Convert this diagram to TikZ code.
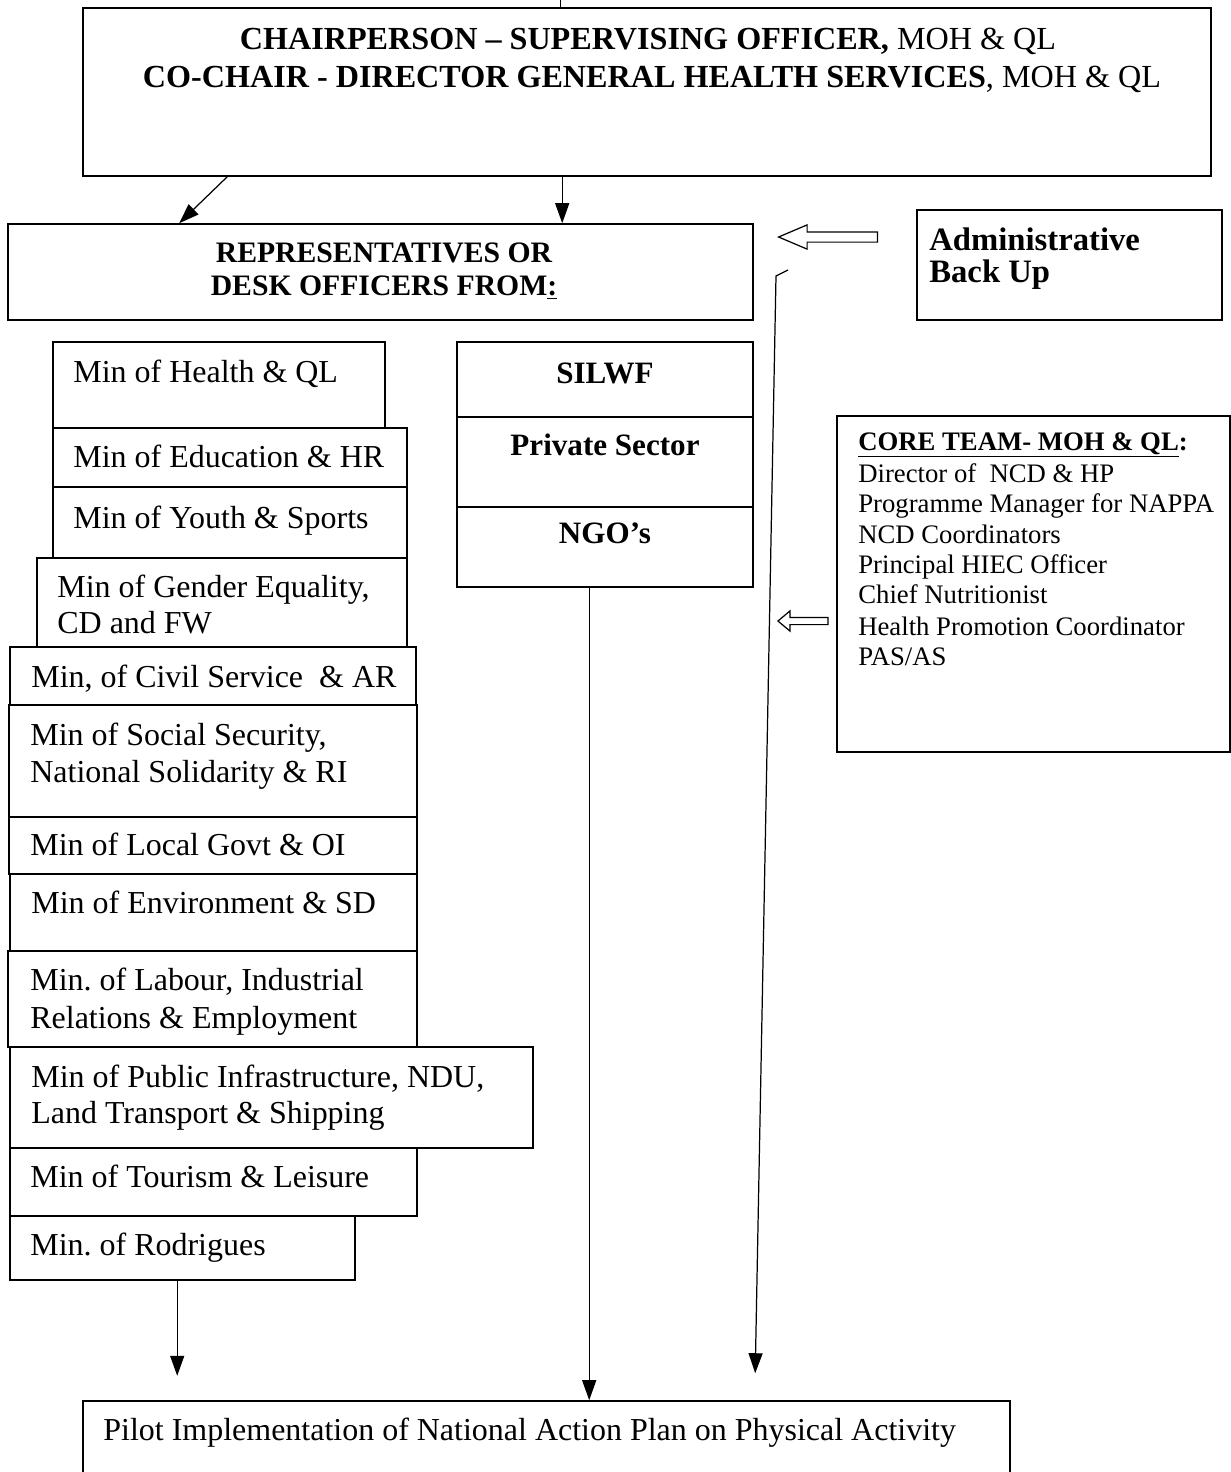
\documentclass[tikz,border=0pt]{standalone}
\usepackage{fontspec}
\setmainfont{Liberation Serif}
\frenchspacing
\usetikzlibrary{arrows.meta,calc,fit,shapes.arrows}

\tikzset{
  box/.style={draw, line width=0.9pt, inner sep=0pt},
  conn/.style={line width=0.7pt, -{Triangle[length=0.4cm,width=0.28cm]}},
  mintxt/.style={anchor=base west, inner sep=0pt, font=\fontsize{18.2}{21}\selectfont},
  boldtxt/.style={anchor=base, inner sep=0pt, font=\fontsize{17.7}{21}\selectfont\bfseries},
  coretxt/.style={anchor=base west, inner sep=0pt, font=\fontsize{15.2}{18}\selectfont},
  hollow/.style={single arrow, draw, line width=0.7pt, shape border rotate=180, anchor=tip}
}

\begin{document}
\begin{tikzpicture}[x=0.02cm, y=-0.02cm]
            \useasboundingbox (0,0) rectangle (1231,1472);

            % chair box
            \node[box, fit={(83,8) (1211,176)}] (chair) {};
            \node[anchor=base, inner sep=0pt, font=\fontsize{18.3}{21}\selectfont] (chairA) at (648,49)
                {\textbf{CHAIRPERSON – SUPERVISING OFFICER,} MOH \& QL};
            \node[anchor=base, inner sep=0pt, font=\fontsize{18.3}{21}\selectfont] (chairB) at (652,87)
                {\textbf{CO-CHAIR - DIRECTOR GENERAL HEALTH SERVICES}, MOH \& QL};

            % representatives
            \node[box, fit={(8,224) (753,320)}] (reps) {};
            \node[anchor=base, inner sep=0pt, font=\fontsize{16.9}{20}\selectfont\bfseries] (repsA) at (384,262) {REPRESENTATIVES OR};
            \node[anchor=base, inner sep=0pt, font=\fontsize{16.9}{20}\selectfont\bfseries] (repsB) at (384,295) {DESK OFFICERS FROM\underline{:}};

            % admin back up
            \node[box, fit={(917,210) (1222,320)}] (admin) {};
            \node[anchor=base west, inner sep=0pt, font=\fontsize{18.6}{22}\selectfont\bfseries] (adminA) at (929,250) {Administrative};
            \node[anchor=base west, inner sep=0pt, font=\fontsize{18.6}{22}\selectfont\bfseries] (adminB) at (929,282) {Back Up};
            \node[hollow, inner sep=0.09cm, single arrow head extend=0.14cm, single arrow tip angle=46,
                  minimum height=1.98cm] (backarrow) at (777,237) {};

            % ministries
            \node[box, fit={(53,342) (385,428)}] (health) {};
            \node[mintxt] (healthT) at (73,382) {Min of Health \& QL};
            \node[box, fit={(53,428) (407,487)}] (educ) {};
            \node[mintxt] (educT) at (73,467) {Min of Education \& HR};
            \node[box, fit={(53,487) (407,558)}] (youth) {};
            \node[mintxt] (youthT) at (73,528) {Min of Youth \& Sports};
            \node[box, fit={(37,558) (407,647)}] (gender) {};
            \node[mintxt] (genderA) at (57,597) {Min of Gender Equality,};
            \node[mintxt] (genderB) at (57,633) {CD and FW};
            \node[box, fit={(10,647) (416,705)}] (civil) {};
            \node[mintxt] (civilT) at (31,687) {Min, of Civil Service~ \& AR};
            \node[box, fit={(9,705) (417,817)}] (social) {};
            \node[mintxt] (socialA) at (30,745) {Min of Social Security,};
            \node[mintxt] (socialB) at (30,782) {National Solidarity \& RI};
            \node[box, fit={(9,817) (417,874)}] (local) {};
            \node[mintxt] (localT) at (30,855) {Min of Local Govt \& OI};
            \node[box, fit={(10,874) (417,951)}] (envir) {};
            \node[mintxt] (envirT) at (31,913) {Min of Environment \& SD};
            \node[box, fit={(8,951) (417,1047)}] (labour) {};
            \node[mintxt] (labourA) at (30,990) {Min. of Labour, Industrial};
            \node[mintxt] (labourB) at (30,1028) {Relations \& Employment};
            \node[box, fit={(10,1047) (533,1148)}] (infra) {};
            \node[mintxt] (infraA) at (31,1087) {Min of Public Infrastructure, NDU,};
            \node[mintxt] (infraB) at (31,1123) {Land Transport \& Shipping};
            \node[box, fit={(10,1148) (417,1216)}] (tourism) {};
            \node[mintxt] (tourismT) at (30,1187) {Min of Tourism \& Leisure};
            \node[box, fit={(10,1216) (355,1280)}] (rodrig) {};
            \node[mintxt] (rodrigT) at (30,1255) {Min. of Rodrigues};

            % other partners
            \node[box, fit={(457,342) (753,417)}] (silwf) {};
            \node[boldtxt] (silwfT) at (605,383) {SILWF};
            \node[box, fit={(457,417) (753,507)}] (private) {};
            \node[boldtxt] (privateT) at (605,455) {Private Sector};
            \node[box, fit={(457,507) (753,587)}] (ngo) {};
            \node[boldtxt] (ngoT) at (605,543) {NGO’s};

            % core team
            \node[box, fit={(837,416) (1230,752)}] (core) {};
            \node[coretxt, font=\fontsize{15.2}{18}\selectfont\bfseries] (coreH) at (858,450) {\underline{CORE TEAM- MOH \& QL}:};
            \node[coretxt] (core1) at (858,482) {Director of~ NCD \& HP};
            \node[coretxt] (core2) at (858,512) {Programme Manager for NAPPA};
            \node[coretxt] (core3) at (858,543) {NCD Coordinators};
            \node[coretxt] (core4) at (858,573) {Principal HIEC Officer};
            \node[coretxt] (core5) at (858,603) {Chief Nutritionist};
            \node[coretxt] (core6) at (858,635) {Health Promotion Coordinator};
            \node[coretxt] (core7) at (858,665) {PAS/AS};
            \node[hollow, inner sep=0.06cm, single arrow head extend=0.13cm, single arrow tip angle=80,
                  minimum height=1cm] (corearrow) at (777,621) {};

            % pilot
            \node[box, fit={(83,1401) (1010,1480)}] (pilot) {};
            \node[mintxt] (pilotT) at (103,1440) {Pilot Implementation of National Action Plan on Physical Activity};

            % connectors
            \draw[line width=0.7pt] ($(chair.north west)+(478,0)$) -- ++(0,-8);
            \draw[conn] ($(chair.south west)+(145,0)$) -- ($(reps.north west)+(172,0)$);
            \draw[conn] ($(chair.south west)+(480,0)$) -- ($(reps.north west)+(555,0)$);
            \draw[conn] ($(ngo.south west)+(133,0)$) coordinate (n1) -- (n1 |- pilot.north);
            \draw[conn] ($(rodrig.south west)+(168,0)$) -- ++(0,95);
            \coordinate (hook) at (788,270);
            \draw[conn] (hook) -- ++(-12,6) -- ($(pilot.north west)+(673,-27)$);
\end{tikzpicture}
\end{document}
